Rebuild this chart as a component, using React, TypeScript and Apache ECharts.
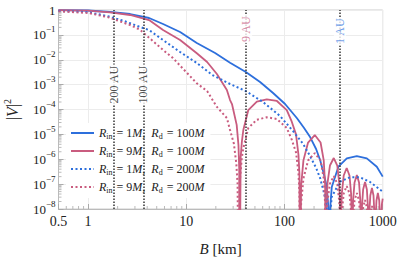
import React, { useEffect, useRef } from 'react';
import * as echarts from 'echarts';

const BLUE = '#2d6fdc';
const PINK = '#c95c7f';
const SERIF = '"Liberation Serif", "DejaVu Serif", serif';

// [B (km), |V|^2]
const BLUE_SOLID: number[][] = [
  [0.5, 0.99], [1, 0.955], [1.675, 0.83], [2.68, 0.69], [4.18, 0.477], [5.8, 0.274], [8.65, 0.13],
  [12.8, 0.0471], [19.65, 0.0187], [27.9, 0.0076], [40.4, 3.22e-3], [56.4, 1.28e-3], [76.5, 4.6e-4],
  [101.4, 1.66e-4], [133.5, 4.55e-5], [158.3, 1.8e-5], [182.3, 7.8e-6], [209.8, 2.58e-6], [230.5, 9.3e-7],
  [253.2, 2.33e-7], [269.7, 7.7e-8], [278, 1.6e-8], [282, 3e-9], [285, 1e-12], [288, 2.1e-9], [292, 1.16e-8],
  [303, 7.7e-8], [354, 5.0e-7], [431, 1.09e-6], [545, 1.35e-6], [689, 1.09e-6], [871, 5.0e-7], [1000, 2.0e-7],
];

const BLUE_DOTTED: number[][] = [
  [0.5, 0.91], [0.737, 0.87], [1.02, 0.81], [1.635, 0.55], [2.44, 0.339], [3.38, 0.207], [4.18, 0.157],
  [5.8, 0.062], [8.65, 0.0205], [12.8, 7.4e-3], [18.4, 2.44e-3], [27.9, 1.06e-3], [40.4, 5.5e-4],
  [60.5, 2.0e-4], [89.9, 5.5e-5], [122, 1.37e-5], [155, 4.1e-6], [182, 1.35e-6], [210, 4.45e-7],
  [230.5, 1.76e-7], [253, 4.4e-8], [262, 2.2e-8], [272, 5.9e-9], [278, 1.2e-9], [283, 1e-12], [288, 1.9e-9],
  [293, 7.8e-9], [303, 3.1e-8], [366, 1.25e-7], [464, 1.88e-7], [584, 1.88e-7], [737, 1.25e-7], [1000, 5.0e-8],
];

const PINK_SOLID: number[][] = [
  [0.5, 0.985], [1, 0.95], [1.675, 0.8], [2.68, 0.63], [4.18, 0.396], [5.8, 0.157], [8.65, 0.062],
  [12.8, 0.0182], [16.3, 0.0081], [20.5, 2.67e-3], [25.9, 6.1e-4], [27.9, 2.4e-4], [29.2, 1.66e-4],
  [32.6, 2.4e-5], [34, 3.7e-6], [34.6, 4e-7], [34.9, 1e-12],
  [35.8, 1.2e-6], [36.8, 5e-6], [38.1, 1.5e-5], [42.8, 9.5e-5], [52.3, 2.06e-4], [66, 2.57e-4], [83.7, 2.2e-4],
  [105.5, 9.5e-5], [118.6, 3.24e-5], [131, 1e-5], [138.8, 1.5e-6], [142, 2.5e-7], [144, 1e-12],
  [147.6, 8.4e-8], [155.9, 9e-7], [173.8, 4.7e-6], [203.5, 9.4e-6], [233, 4.7e-6], [251, 9e-7], [259.4, 8.4e-8], [263, 1e-12],
  [266.3, 1.0e-8], [273.9, 1.07e-7], [290.3, 5.6e-7], [317.5, 1.12e-6], [344.8, 5.6e-7], [361.1, 1.07e-7], [368.7, 1.0e-8], [372, 1e-12],
  [375.5, 4.0e-9], [383.6, 4.26e-8], [401, 2.23e-7], [430, 4.46e-7], [459, 2.23e-7], [476.4, 4.26e-8], [484.5, 4.0e-9], [488, 1e-12],
  [491.5, 2.1e-9], [499.5, 2.2e-8], [516.8, 1.17e-7], [545.5, 2.33e-7], [574.3, 1.17e-7], [591.5, 2.2e-8], [599.6, 2.1e-9], [603, 1e-12],
  [606.5, 1.1e-9], [614.6, 1.17e-8], [632, 6.1e-8], [661, 1.22e-7], [690, 6.1e-8], [707.4, 1.17e-8], [715.5, 1.1e-9], [719, 1e-12],
  [722.5, 6.2e-10], [730.6, 6.7e-9], [748, 3.5e-8], [777, 7e-8], [806, 3.5e-8], [823.4, 6.7e-9], [831.5, 6.2e-10], [835, 1e-12],
  [838.5, 3.9e-10], [846.6, 4.2e-9], [864, 2.2e-8], [893, 4.4e-8], [922, 2.2e-8], [939.4, 4.2e-9], [947.5, 3.9e-10], [951, 1e-12],
  [954.5, 2.7e-10], [962.6, 2.9e-9], [980, 1.5e-8], [1000, 2.6e-8],
];

const PINK_DOTTED: number[][] = [
  [0.5, 0.89], [1.02, 0.757], [1.635, 0.5], [2.68, 0.249], [3.38, 0.161], [5.8, 0.0247], [7.3, 0.0118],
  [12.8, 1.13e-3], [16.3, 5.5e-4], [20.4, 1.3e-4], [25.9, 4.55e-5], [27.9, 1.5e-5], [30.5, 4.3e-6],
  [32.3, 6.9e-7], [33.3, 1e-7], [34, 1e-12],
  [35.2, 1.5e-7], [36.8, 1.2e-6], [38.1, 2.8e-6], [42.8, 1.8e-5], [52.3, 3.9e-5], [66, 4.86e-5], [83.7, 4.15e-5],
  [105.5, 1.8e-5], [118.6, 6.1e-6], [131, 1.9e-6], [138.8, 2.8e-7], [142, 4.2e-8], [144, 1e-12],
  [147.6, 1.6e-8], [155.9, 1.7e-7], [173.8, 8.9e-7], [203.5, 1.77e-6], [233, 8.9e-7], [251, 1.7e-7], [259.4, 1.6e-8], [263, 1e-12],
  [266.3, 1.9e-9], [273.9, 2.0e-8], [290.3, 1.05e-7], [317.5, 2.1e-7], [344.8, 1.05e-7], [361.1, 2.0e-8], [368.7, 1.9e-9], [372, 1e-12],
  [375.5, 7.5e-10], [383.6, 8.0e-9], [401, 4.2e-8], [430, 8.4e-8], [459, 4.2e-8], [476.4, 8.0e-9], [484.5, 7.5e-10], [488, 1e-12],
  [491.5, 3.9e-10], [499.5, 4.2e-9], [516.8, 2.2e-8], [545.5, 4.4e-8], [574.3, 2.2e-8], [591.5, 4.2e-9], [599.6, 3.9e-10], [603, 1e-12],
  [606.5, 2e-10], [614.6, 2.2e-9], [632, 1.15e-8], [661, 2.3e-8], [690, 1.15e-8], [707.4, 2.2e-9], [715.5, 2e-10], [719, 1e-12],
  [722.5, 1.2e-10], [730.6, 1.26e-9], [748, 6.6e-9], [777, 1.32e-8], [806, 6.6e-9], [823.4, 1.26e-9], [831.5, 1.2e-10], [835, 1e-12],
  [864, 4e-9], [893, 8.3e-9], [922, 4e-9], [951, 1e-12], [980, 3e-9], [1000, 5e-9],
];

const SERIES_KEYS = ['bs', 'ps', 'bd', 'pd'];
const SERIES_DATA = [BLUE_SOLID, PINK_SOLID, BLUE_DOTTED, PINK_DOTTED];
const SERIES_COLORS = [BLUE, PINK, BLUE, PINK];
const SERIES_DOTTED = [false, false, true, true];
const LEGEND_RIN = ['1', '9', '1', '9'];
const LEGEND_RD = ['100', '100', '200', '200'];

const AU_B = [1.83, 3.66, 40.7, 366];
const AU_TEXT = ['200 AU', '100 AU', '9 AU', '1 AU'];
const AU_LABEL_Y = [1e-3, 1e-3, 0.17, 0.14];
const AU_COLORS = ['#222222', '#222222', '#cf6f8f', '#4a86e3'];

const X_MINOR = [0.6, 0.7, 0.8, 0.9, 2, 3, 4, 5, 6, 7, 8, 9, 20, 30, 40, 50, 60, 70, 80, 90, 200, 300, 400, 500, 600, 700, 800, 900];
const Y_DECADES = [-8, -7, -6, -5, -4, -3, -2, -1];
const Y_MINOR_MANTISSA = [2, 3, 4, 5, 6, 7, 8, 9];

export default function App() {
  const ref = useRef<HTMLDivElement>(null);
  useEffect(() => {
    if (!ref.current) return;
    const chart = echarts.init(ref.current, undefined, { renderer: 'svg' });
    const yMinor: number[][] = [];
    Y_DECADES.forEach((d) => Y_MINOR_MANTISSA.forEach((m) => yMinor.push([0.5, m * Math.pow(10, d)])));
    const xMinor = X_MINOR.map((v) => [v, 1e-8]);

    const legendText: Record<string, string> = {};
    SERIES_KEYS.forEach((k, i) => {
      legendText[k] = `{i|R}{s|in}{n| = ${LEGEND_RIN[i]}}{i|M}{n|,  }{i|R}{s|d}{n| = ${LEGEND_RD[i]}}{i|M}`;
    });

    const dataSeries = SERIES_KEYS.map((k, i) => ({
      name: k,
      type: 'line',
      data: SERIES_DATA[i],
      symbol: 'none',
      clip: true,
      z: 4,
      lineStyle: {
        color: SERIES_COLORS[i],
        width: SERIES_DOTTED[i] ? 2 : 1.8,
        type: SERIES_DOTTED[i] ? [2, 2.5] : 'solid',
      },
      itemStyle: { color: SERIES_COLORS[i] },
    }));

    chart.setOption({
      animation: false,
      backgroundColor: '#ffffff',
      grid: { left: 58.5, right: 16.3, top: 10, bottom: 50, show: true, borderColor: '#cccccc', borderWidth: 1, outerBoundsMode: 'none' },
      legend: {
        data: SERIES_KEYS,
        orient: 'vertical',
        left: 66,
        top: 123,
        padding: [4, 6, 4, 4],
        itemWidth: 23,
        itemHeight: 14,
        itemGap: 5,
        backgroundColor: '#ffffff',
        itemStyle: { opacity: 0 },
        formatter: (name: string) => legendText[name],
        textStyle: {
          rich: {
            i: { fontFamily: SERIF, fontStyle: 'italic', fontSize: 12, color: '#222' },
            n: { fontFamily: SERIF, fontSize: 12, color: '#222' },
            s: { fontFamily: SERIF, fontSize: 8, color: '#222', padding: [6, 1, 0, 0] },
          },
        },
      },
      xAxis: {
        type: 'log',
        logBase: 10,
        min: 0.5,
        max: 1000,
        name: '{i|B}{n| [km]}',
        nameLocation: 'middle',
        nameGap: 32,
        nameTextStyle: {
          rich: {
            i: { fontFamily: SERIF, fontStyle: 'italic', fontSize: 15, color: '#222' },
            n: { fontFamily: SERIF, fontSize: 15, color: '#222' },
          },
        },
        axisLine: { show: true, lineStyle: { color: '#bbbbbb' } },
        axisTick: { show: true, inside: true, length: 5, lineStyle: { color: '#aaaaaa' } },
        splitLine: { show: true, lineStyle: { color: '#ececec', width: 1 } },
        axisLabel: {
          margin: 5,
          fontFamily: SERIF,
          fontSize: 14,
          color: '#222',
          formatter: (v: number) => (v < 0.9 ? '0.5' : String(Math.round(v))),
        },
      },
      yAxis: {
        type: 'log',
        logBase: 10,
        min: 1e-8,
        max: 1,
        splitNumber: 8,
        name: '{n||}{i|V}{n||}{e|2}',
        nameLocation: 'middle',
        nameGap: 36,
        nameRotate: 90,
        nameTextStyle: {
          rich: {
            i: { fontFamily: SERIF, fontStyle: 'italic', fontSize: 16, color: '#222' },
            n: { fontFamily: SERIF, fontSize: 16, color: '#222' },
            e: { fontFamily: SERIF, fontSize: 10, color: '#222', padding: [0, 0, 10, 0] },
          },
        },
        axisLine: { show: true, lineStyle: { color: '#bbbbbb' } },
        axisTick: { show: true, inside: true, length: 5, lineStyle: { color: '#aaaaaa' } },
        splitLine: { show: true, lineStyle: { color: '#ececec', width: 1 } },
        axisLabel: {
          margin: 3,
          formatter: (v: number) => {
            const e = Math.round(Math.log10(v));
            if (e === 0) return '{b|1}';
            return `{b|10}{e|\u2212${-e}}`;
          },
          rich: {
            b: { fontFamily: SERIF, fontSize: 13, color: '#222' },
            e: { fontFamily: SERIF, fontSize: 9, color: '#222', padding: [0, 0, 11, 0] },
          },
        },
      },
      series: [
        {
          type: 'custom',
          name: 'xminor',
          silent: true,
          z: 1,
          data: xMinor,
          renderItem: (params: any, api: any) => {
            const p = api.coord([api.value(0), api.value(1)]);
            return { type: 'line', shape: { x1: p[0], y1: p[1], x2: p[0], y2: p[1] - 3 }, style: { stroke: '#bbbbbb', lineWidth: 1 } };
          },
        },
        {
          type: 'custom',
          name: 'yminor',
          silent: true,
          z: 1,
          data: yMinor,
          renderItem: (params: any, api: any) => {
            const p = api.coord([api.value(0), api.value(1)]);
            return { type: 'line', shape: { x1: p[0], y1: p[1], x2: p[0] + 3, y2: p[1] }, style: { stroke: '#bbbbbb', lineWidth: 1 } };
          },
        },
        {
          type: 'line',
          name: 'aulines',
          data: [],
          z: 3,
          markLine: {
            silent: true,
            symbol: ['none', 'none'],
            label: { show: false },
            lineStyle: { color: '#333333', type: [1.5, 1.5], width: 1.5 },
            data: AU_B.map((b) => ({ xAxis: b })),
          },
        },
        ...dataSeries,
        {
          type: 'scatter',
          name: 'aulabels',
          silent: true,
          z: 6,
          symbolSize: 1,
          itemStyle: { color: 'transparent' },
          data: AU_B.map((b, i) => ({ value: [b, AU_LABEL_Y[i]], label: { color: AU_COLORS[i] } })),
          label: {
            show: true,
            position: 'inside',
            rotate: 90,
            fontFamily: SERIF,
            fontSize: 12,
            backgroundColor: '#ffffff',
            padding: [0, 1],
            formatter: (p: any) => AU_TEXT[p.dataIndex],
          },
        },
      ],
    });
    return () => chart.dispose();
  }, []);
  return <div ref={ref} style={{ position: 'absolute', left: 0, top: 0, width: 399, height: 259 }} />;
}
